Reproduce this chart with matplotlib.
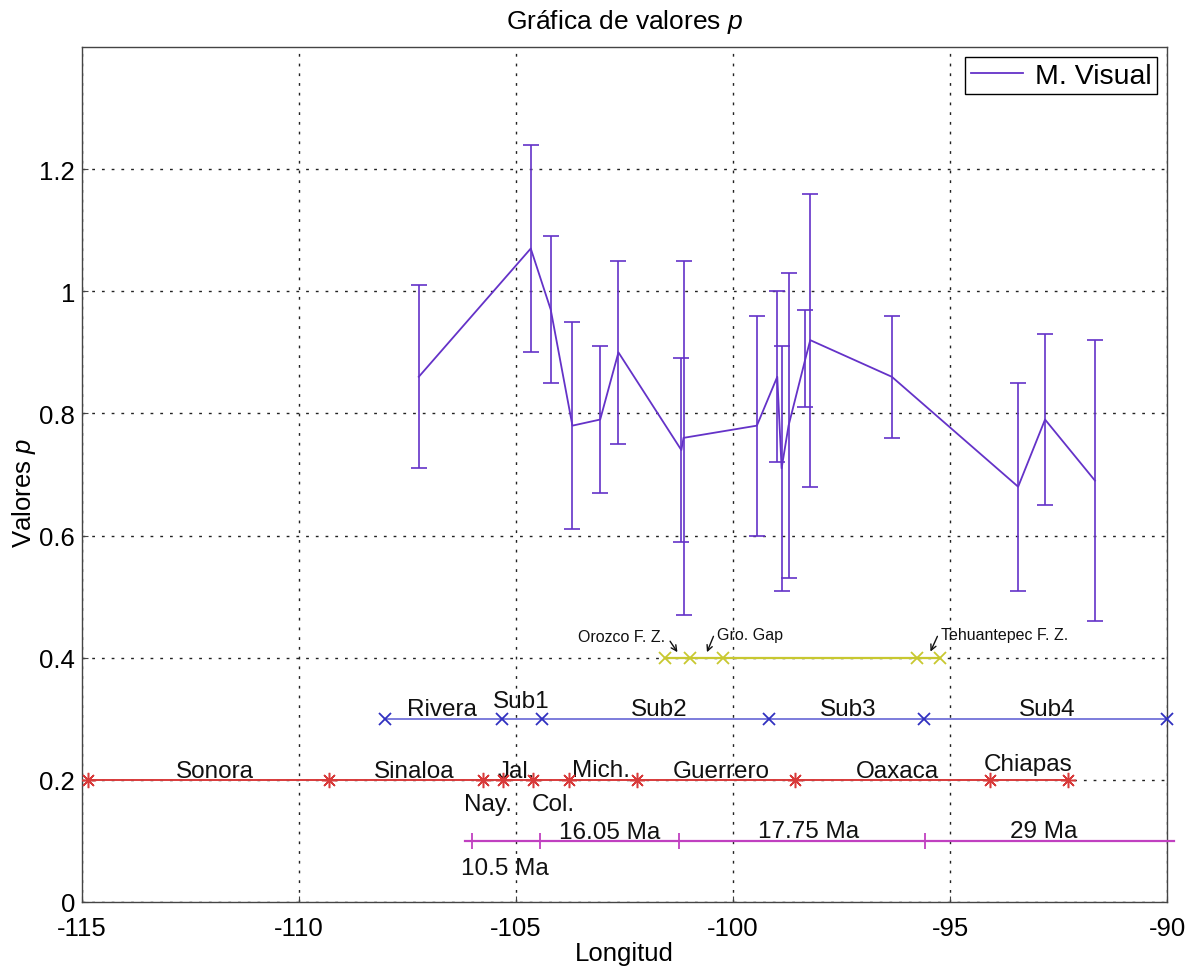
import matplotlib
matplotlib.use("Agg")
import matplotlib.pyplot as plt
from matplotlib.lines import Line2D

plt.rcParams['font.family'] = ['Liberation Sans', 'DejaVu Sans']
plt.rcParams['mathtext.fontset'] = 'custom'
plt.rcParams['mathtext.rm'] = 'Liberation Sans'
plt.rcParams['mathtext.it'] = 'Liberation Sans:italic'
plt.rcParams['axes.unicode_minus'] = False

# p-values along the trench (longitude, value, symmetric error)
lon = [-107.24, -104.66, -104.20, -103.70, -103.06, -102.64, -101.19, -101.14, -99.45,
       -98.98, -98.88, -98.72, -98.33, -98.22, -96.34, -93.43, -92.81, -91.66]
p_val = [0.86, 1.07, 0.97, 0.78, 0.79, 0.90, 0.74, 0.76, 0.78,
         0.86, 0.71, 0.78, 0.89, 0.92, 0.86, 0.68, 0.79, 0.69]
p_err = [0.15, 0.17, 0.12, 0.17, 0.12, 0.15, 0.15, 0.29, 0.18,
         0.14, 0.20, 0.25, 0.08, 0.24, 0.10, 0.17, 0.14, 0.23]

# structural features (y = 0.4)
feature_lon = [-101.57, -101.00, -100.23, -95.77, -95.22]
feature_y = 0.4
feature_names = ['Orozco F. Z.', 'Gro. Gap', 'Tehuantepec F. Z.']
feature_text_x = [-103.58, -100.37, -95.20]
feature_text_y = [0.428, 0.431, 0.431]
feature_arrow_tail = [(-101.45, 0.427), (-100.45, 0.435), (-95.29, 0.435)]
feature_arrow_head = [(-101.28, 0.409), (-100.60, 0.409), (-95.45, 0.410)]

# subduction segments (y = 0.3)
segment_lon = [-108.02, -105.32, -104.41, -99.17, -95.59, -90.0]
segment_y = 0.3
segment_names = ['Rivera', 'Sub1', 'Sub2', 'Sub3', 'Sub4']
segment_text_x = [-106.70, -104.89, -101.69, -97.35, -92.76]
segment_text_y = [0.3066, 0.320, 0.3066, 0.3066, 0.3066]

# state boundaries (y = 0.2)
state_lon = [-114.86, -109.30, -105.75, -105.31, -104.60, -103.79, -102.21, -98.56, -94.07, -92.27]
state_y = 0.2
state_names = ['Sonora', 'Sinaloa', 'Nay.', 'Jal.', 'Col.', 'Mich.', 'Guerrero', 'Oaxaca', 'Chiapas']
state_text_x = [-111.94, -107.34, -105.64, -104.99, -104.14, -103.05, -100.27, -96.20, -93.21]
state_text_y = [0.205, 0.205, 0.151, 0.205, 0.151, 0.207, 0.204, 0.204, 0.216]

# plate age (y = 0.1)
age_span = [-106.17, -89.85]
age_ticks = [-106.02, -104.45, -101.25, -95.58]
age_y = 0.1
age_names = ['10.5 Ma', '16.05 Ma', '17.75 Ma', '29 Ma']
age_text_x = [-105.25, -102.85, -98.26, -92.84]
age_text_y = [0.046, 0.104, 0.106, 0.106]

x_ticks = [-115, -110, -105, -100, -95, -90]
y_ticks = [0, 0.2, 0.4, 0.6, 0.8, 1.0, 1.2]
y_tick_labels = ['0', '0.2', '0.4', '0.6', '0.8', '1', '1.2']

purple = '#6432c8'
red = '#d83a3a'
blue_line = '#7c7cdc'
blue_mark = '#3030c0'
yellow = '#c8c830'
magenta = '#c040c0'

fig = plt.figure(figsize=(11.89, 9.70), dpi=100)
ax = fig.add_axes([82 / 1189, 1 - 903 / 970, (1167 - 82) / 1189, (903 - 48) / 970])

ax.set_xlim(-115, -90)
ax.set_ylim(0, 1.4)
ax.set_xticks(x_ticks)
ax.set_yticks(y_ticks)
ax.set_yticklabels(y_tick_labels)
ax.tick_params(direction='in', length=4, labelsize=18.5, color='#444444')
ax.tick_params(axis='x', pad=10)
ax.tick_params(axis='y', pad=5)
for s in ax.spines.values():
    s.set_color('#444444')
    s.set_linewidth(1.0)

ax.set_axisbelow(True)
ax.grid(True, color='#222222', linewidth=1.0, linestyle=(0, (2, 5)))

# main series
ax.errorbar(lon, p_val, yerr=p_err, color=purple, linewidth=1.3, elinewidth=1.2,
            capsize=5.5, capthick=1.2, zorder=5)

label_size = 17.5

# feature line
ax.plot(feature_lon, [feature_y] * len(feature_lon), color=yellow, linewidth=1.6,
        marker='x', markersize=9, markeredgewidth=1.3, zorder=4)
for name, tx, ty, tail, head in zip(feature_names, feature_text_x, feature_text_y,
                                    feature_arrow_tail, feature_arrow_head):
    ax.text(tx, ty, name, fontsize=11.5, ha='left', va='baseline', color='#111111')
    ax.annotate('', xy=head, xytext=tail,
                arrowprops=dict(arrowstyle='->', color='#111111', lw=1.0,
                                shrinkA=0, shrinkB=0, mutation_scale=10))

# segment line
ax.plot(segment_lon, [segment_y] * len(segment_lon), color=blue_line, linewidth=1.4,
        marker='x', markersize=9, markeredgewidth=1.3, markeredgecolor=blue_mark,
        zorder=4, clip_on=False)
for name, tx, ty in zip(segment_names, segment_text_x, segment_text_y):
    ax.text(tx, ty, name, fontsize=label_size, ha='center', va='baseline', color='#111111')

# state line
ax.plot(state_lon, [state_y] * len(state_lon), color=red, linewidth=1.4,
        marker=(8, 2, 0), markersize=11, markeredgewidth=1.1, zorder=4)
for name, tx, ty in zip(state_names, state_text_x, state_text_y):
    ax.text(tx, ty, name, fontsize=label_size, ha='center', va='baseline', color='#111111')

# age line
ax.plot(age_span, [age_y, age_y], color=magenta, linewidth=1.6, zorder=4, clip_on=False)
ax.plot(age_ticks, [age_y] * len(age_ticks), linestyle='none', marker='|',
        markersize=12, markeredgewidth=1.3, color=magenta, zorder=4)
for name, tx, ty in zip(age_names, age_text_x, age_text_y):
    ax.text(tx, ty, name, fontsize=label_size, ha='center', va='baseline', color='#111111')

ax.set_title('Gráfica de valores $p$', fontsize=19, pad=14)
ax.set_xlabel('Longitud', fontsize=18.5, labelpad=1)
ax.set_ylabel('Valores $p$', fontsize=18.5)
ax.yaxis.set_label_coords(-0.041, 0.48)

handle = Line2D([], [], color=purple, linewidth=1.3)
leg = ax.legend([handle], ['M. Visual'], loc='upper right', fontsize=20.5,
                frameon=True, fancybox=False, edgecolor='black', framealpha=1,
                borderpad=0.2, handlelength=1.85, handletextpad=0.4,
                borderaxespad=0.35)
leg.get_frame().set_linewidth(1.0)

fig.savefig('out.png', dpi=100)
